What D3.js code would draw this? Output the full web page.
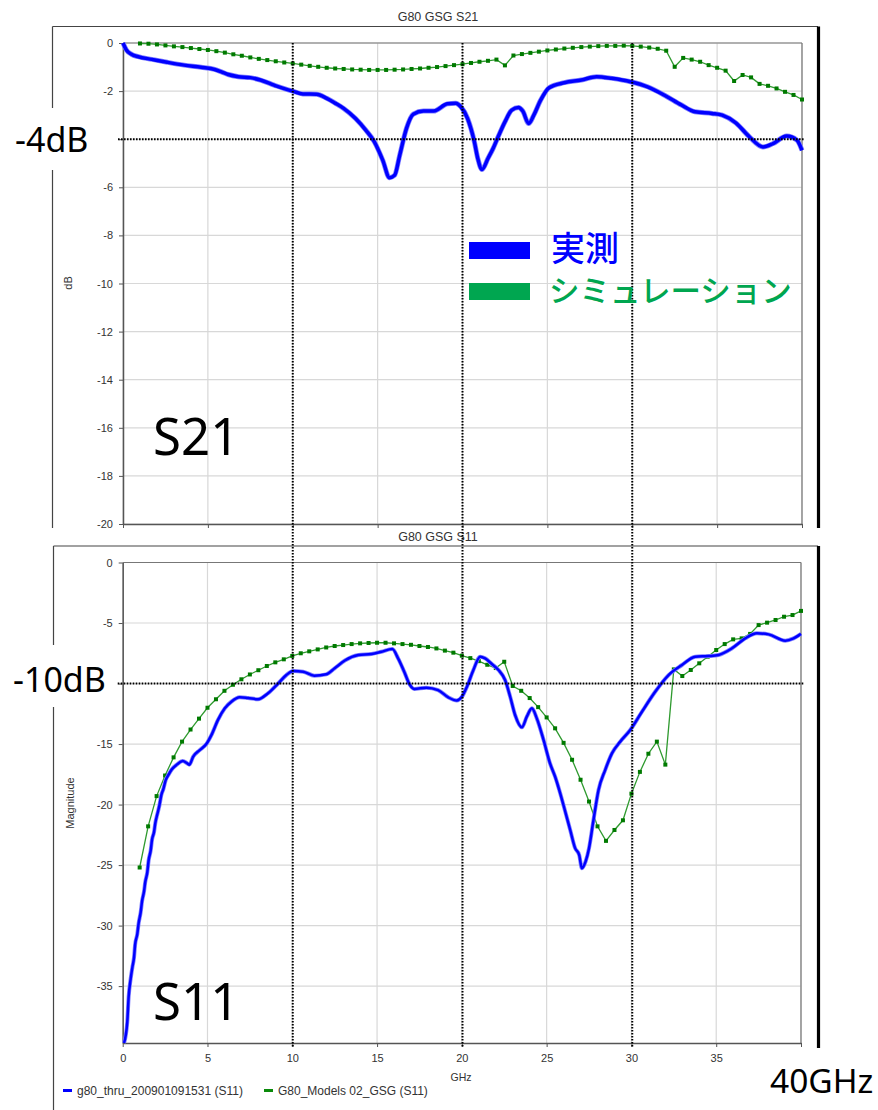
<!DOCTYPE html>
<html>
<head>
<meta charset="utf-8">
<script src="https://cdn.jsdelivr.net/npm/d3@7"></script>
<style>
  body { margin: 0; background: #fff; }
  svg { display: block; }
</style>
</head>
<body>
<svg id="canvas"></svg>
<script>
// measured S21 (blue)
const s21MeasFreq = [0, 0.2, 0.5, 0.9, 1.7, 2.6, 3.6, 4.6, 5.4, 5.8, 6.2, 6.8, 7.5, 8.1, 8.9, 9.5, 10, 10.6, 11.4, 12, 12.5, 13, 13.7, 14.3, 14.8, 15.3, 15.7, 16, 16.3, 16.7, 17.1, 17.7, 18.3, 19.1, 19.6, 19.9, 20.3, 20.7, 20.9, 21.15, 21.5, 21.8, 22.1, 22.5, 22.9, 23.3, 23.55, 23.9, 24.2, 24.6, 25.1, 26, 27, 27.9, 28.8, 29.9, 30.9, 31.9, 32.9, 33.7, 34.7, 35.3, 36.1, 36.9, 37.7, 38.3, 39.1, 39.7, 40];
const s21MeasDb = [0, -0.29, -0.47, -0.57, -0.68, -0.8, -0.92, -1.01, -1.1, -1.2, -1.31, -1.4, -1.44, -1.54, -1.75, -1.9, -2.0, -2.12, -2.13, -2.3, -2.5, -2.72, -3.14, -3.62, -4.1, -4.87, -5.6, -5.5, -4.67, -3.55, -2.96, -2.83, -2.83, -2.53, -2.5, -2.65, -3.14, -4.11, -4.8, -5.26, -4.8, -4.39, -3.9, -3.28, -2.79, -2.68, -2.83, -3.35, -3.0, -2.38, -1.86, -1.65, -1.54, -1.4, -1.47, -1.61, -1.82, -2.17, -2.58, -2.86, -2.93, -3.0, -3.32, -3.9, -4.32, -4.18, -3.87, -4.04, -4.46];

// measured S11 (blue)
const s11MeasFreq = [0.08, 0.27, 0.35, 0.47, 0.57, 0.67, 0.73, 0.86, 0.94, 1.06, 1.14, 1.26, 1.33, 1.45, 1.53, 1.65, 1.73, 1.85, 1.92, 2.04, 2.16, 2.28, 2.4, 2.53, 2.69, 2.89, 3.19, 3.54, 3.81, 3.93, 4.15, 4.54, 4.93, 5.23, 5.62, 6.02, 6.41, 6.9, 7.39, 7.98, 8.57, 9.16, 9.65, 10.05, 10.64, 11.3, 12.0, 12.5, 13.1, 13.9, 14.67, 15.26, 15.9, 16.24, 16.6, 16.93, 17.2, 17.9, 18.6, 19.2, 19.7, 20.0, 20.3, 20.68, 21.08, 21.37, 21.77, 22.16, 22.55, 22.85, 23.14, 23.54, 23.83, 24.13, 24.42, 24.82, 25.2, 25.5, 25.8, 26.1, 26.39, 26.68, 26.92, 27.08, 27.3, 27.5, 27.76, 28.06, 28.45, 28.85, 29.34, 29.93, 30.62, 31.4, 32.19, 32.98, 33.76, 34.55, 35.14, 35.93, 36.71, 37.4, 38.09, 39.07, 39.56, 40];
const s11MeasDb = [-39.7, -37.95, -35.9, -34.4, -33.45, -32.6, -31.6, -30.7, -29.8, -28.9, -28.0, -27.15, -26.4, -25.6, -24.6, -23.8, -22.9, -22.25, -21.55, -20.8, -20.1, -19.2, -18.7, -18.0, -17.56, -17.1, -16.7, -16.4, -16.6, -16.7, -16.05, -15.5, -15.0, -14.26, -13.0, -12.05, -11.5, -11.14, -11.2, -11.3, -10.8, -10.0, -9.3, -8.97, -9.02, -9.35, -9.24, -8.74, -8.1, -7.65, -7.56, -7.37, -7.15, -7.92, -9.02, -10.1, -10.45, -10.34, -10.54, -11.14, -11.4, -11.1, -10.26, -8.88, -7.78, -7.92, -8.39, -8.88, -9.71, -11.09, -12.6, -13.62, -12.74, -12.05, -12.88, -14.67, -16.6, -17.7, -19.07, -20.6, -22.1, -23.6, -24.17, -25.27, -24.7, -23.6, -21.3, -18.8, -17.15, -15.77, -14.8, -13.84, -12.33, -10.68, -9.3, -8.47, -7.78, -7.73, -7.64, -7.09, -6.27, -5.85, -5.94, -6.46, -6.27, -5.9];

// simulation (green), 1..40 GHz in 0.5 GHz steps
const simFreq = [1, 1.5, 2, 2.5, 3, 3.5, 4, 4.5, 5, 5.5, 6, 6.5, 7, 7.5, 8, 8.5, 9, 9.5, 10, 10.5, 11, 11.5, 12, 12.5, 13, 13.5, 14, 14.5, 15, 15.5, 16, 16.5, 17, 17.5, 18, 18.5, 19, 19.5, 20, 20.5, 21, 21.5, 22, 22.5, 23, 23.5, 24, 24.5, 25, 25.5, 26, 26.5, 27, 27.5, 28, 28.5, 29, 29.5, 30, 30.5, 31, 31.5, 32, 32.5, 33, 33.5, 34, 34.5, 35, 35.5, 36, 36.5, 37, 37.5, 38, 38.5, 39, 39.5, 40];
const s21SimDb = [-0.02, -0.03, -0.06, -0.1, -0.14, -0.17, -0.21, -0.25, -0.29, -0.34, -0.4, -0.47, -0.53, -0.6, -0.66, -0.71, -0.76, -0.81, -0.85, -0.9, -0.95, -0.99, -1.03, -1.06, -1.08, -1.1, -1.11, -1.12, -1.12, -1.12, -1.11, -1.1, -1.08, -1.06, -1.03, -1.0, -0.96, -0.92, -0.88, -0.83, -0.78, -0.74, -0.69, -0.93, -0.52, -0.46, -0.41, -0.36, -0.31, -0.27, -0.23, -0.2, -0.17, -0.15, -0.13, -0.12, -0.12, -0.11, -0.12, -0.15, -0.19, -0.24, -0.32, -0.99, -0.62, -0.69, -0.78, -0.92, -1.03, -1.15, -1.58, -1.33, -1.43, -1.7, -1.78, -1.89, -2.03, -2.16, -2.35];
const s11SimDb = [-25.2, -21.8, -19.3, -17.6, -16.1, -14.8, -13.8, -12.9, -12.0, -11.3, -10.6, -10.1, -9.65, -9.25, -8.9, -8.55, -8.25, -8.0, -7.72, -7.5, -7.34, -7.18, -7.02, -6.9, -6.82, -6.74, -6.68, -6.65, -6.63, -6.63, -6.68, -6.74, -6.8, -6.9, -6.98, -7.1, -7.28, -7.45, -7.7, -7.9, -8.15, -8.45, -8.72, -8.2, -10.2, -10.6, -11.2, -11.95, -12.8, -13.7, -14.9, -16.3, -17.95, -19.75, -21.8, -23.0, -22.1, -21.3, -19.1, -17.3, -15.8, -14.8, -16.7, -8.83, -9.38, -8.88, -8.33, -7.78, -7.23, -6.74, -6.35, -6.27, -5.9, -5.17, -4.97, -4.75, -4.48, -4.34, -4.0];

const freqTicks = [0, 5, 10, 15, 20, 25, 30, 35, 40];
const freqLabels = ['0', '5', '10', '15', '20', '25', '30', '35', ''];
const s21Ticks = [0, -2, -4, -6, -8, -10, -12, -14, -16, -18, -20];
const s11Ticks = [0, -5, -10, -15, -20, -25, -30, -35];
const markerFreqs = [10, 20, 30];
const legendNames = ['g80_thru_200901091531 (S11)', 'G80_Models 02_GSG (S11)'];

const width = 878;
const height = 1110;
const blue = '#0000ff';
const tickFont = '"Liberation Sans", Arial, sans-serif';
const bigFont = '"Noto Sans", "Open Sans", sans-serif';
const cjkFont = '"Noto Sans CJK JP", "Noto Sans", sans-serif';

const svg = d3.select('#canvas').attr('width', width).attr('height', height);

const zip = (xs, ys) => xs.map((f, i) => ({ f: f, v: ys[i] }));

const drawPanel = (cfg) => {
	const x = d3.scaleLinear().domain([0, 40]).range([cfg.left, cfg.right]);
	const y = d3.scaleLinear().domain([cfg.yMin, 0]).range([cfg.bottom, cfg.top]);
	const g = svg.append('g');

	// outer frame
	g.append('line').attr('x1', cfg.frameX).attr('x2', 818).attr('y1', cfg.frameTop).attr('y2', cfg.frameTop)
		.attr('stroke', '#444').attr('stroke-width', 1.2);
	g.append('line').attr('x1', cfg.frameX).attr('x2', cfg.frameX).attr('y1', cfg.frameTop).attr('y2', cfg.frameBottom)
		.attr('stroke', '#444').attr('stroke-width', 1.2);
	g.append('line').attr('x1', 818.5).attr('x2', 818.5).attr('y1', cfg.frameTop).attr('y2', cfg.rightBottom)
		.attr('stroke', '#000').attr('stroke-width', 3.2);

	g.append('text').attr('x', 438).attr('y', cfg.titleY).attr('text-anchor', 'middle')
		.attr('font-family', tickFont).attr('font-size', 12.5).attr('fill', '#333').text(cfg.title);

	// grid
	g.append('g').selectAll('line').data(cfg.yTicks).enter().append('line')
		.attr('x1', cfg.left).attr('x2', cfg.right).attr('y1', (d) => y(d)).attr('y2', (d) => y(d))
		.attr('stroke', '#d8d8d8').attr('stroke-width', 1.2);
	g.append('g').selectAll('line').data(freqTicks).enter().append('line')
		.attr('x1', (d) => x(d)).attr('x2', (d) => x(d)).attr('y1', cfg.top).attr('y2', cfg.bottom)
		.attr('stroke', '#d8d8d8').attr('stroke-width', 1.2);

	// plot box top / right
	g.append('line').attr('x1', cfg.left).attr('x2', cfg.right).attr('y1', cfg.top).attr('y2', cfg.top)
		.attr('stroke', '#777').attr('stroke-width', 1.2);
	g.append('line').attr('x1', cfg.right).attr('x2', cfg.right).attr('y1', cfg.top).attr('y2', cfg.bottom)
		.attr('stroke', '#777').attr('stroke-width', 1.2);

	// axes (the label under the dB annotation is hidden in the original)
	const yAxis = g.append('g').attr('transform', `translate(${cfg.left},0)`)
		.call(d3.axisLeft(y).tickValues(cfg.yTicks).tickSize(4).tickSizeOuter(0).tickPadding(6)
			.tickFormat((d) => (d === cfg.refLevel ? '' : d)));
	const xAxis = g.append('g').attr('transform', `translate(0,${cfg.bottom})`)
		.call(d3.axisBottom(x).tickValues(freqTicks).tickSize(4).tickSizeOuter(0).tickPadding(7)
			.tickFormat((d, i) => (cfg.xLabels ? freqLabels[i] : '')));
	[yAxis, xAxis].forEach((a) => {
		a.select('.domain').attr('stroke', '#555').attr('stroke-width', 1.5);
		a.selectAll('.tick line').attr('stroke', '#555');
		a.selectAll('text').attr('font-family', tickFont).attr('font-size', 11).attr('fill', '#333');
	});

	g.append('text')
		.attr('transform', `translate(${cfg.yLabelX},${cfg.yLabelY}) rotate(-90)`)
		.attr('text-anchor', 'middle').attr('font-family', tickFont).attr('font-size', 11)
		.attr('fill', '#333').text(cfg.yLabel);

	// simulation (green, linear with markers)
	const sim = zip(simFreq, cfg.simDb);
	g.append('path').datum(sim)
		.attr('d', d3.line().x((d) => x(d.f)).y((d) => y(d.v)))
		.attr('fill', 'none').attr('stroke', '#2f9a2f').attr('stroke-width', 1.3);
	g.append('g').selectAll('rect').data(sim).enter().append('rect')
		.attr('x', (d) => x(d.f) - 2).attr('y', (d) => y(d.v) - 2).attr('width', 4).attr('height', 4)
		.attr('fill', '#007a00');

	// measured (blue, dense)
	const meas = zip(cfg.measFreq, cfg.measDb);
	const measLine = d3.line().curve(d3.curveMonotoneX).x((d) => x(d.f)).y((d) => y(d.v));
	g.append('path').datum(meas).attr('d', measLine)
		.attr('fill', 'none').attr('stroke', '#8080ff').attr('stroke-width', cfg.measWidth + 1.5);
	g.append('path').datum(meas).attr('d', measLine)
		.attr('fill', 'none').attr('stroke', blue).attr('stroke-width', cfg.measWidth);

	// dotted reference level
	g.append('line').attr('x1', cfg.left - 5).attr('x2', cfg.right + 3)
		.attr('y1', y(cfg.refLevel)).attr('y2', y(cfg.refLevel))
		.attr('stroke', '#000').attr('stroke-width', 2).attr('stroke-dasharray', '1.6 1.4');

	return { x: x, y: y };
};

const top21 = drawPanel({
	title: 'G80 GSG S21', titleY: 21,
	frameX: 52.5, frameTop: 26.5, frameBottom: 528, rightBottom: 528,
	left: 123, right: 802, top: 43, bottom: 524, yMin: -20,
	yTicks: s21Ticks, xLabels: false, refLevel: -4,
	yLabel: 'dB', yLabelX: 72, yLabelY: 283,
	measFreq: s21MeasFreq, measDb: s21MeasDb, simDb: s21SimDb, measWidth: 3.5
});

const bot11 = drawPanel({
	title: 'G80 GSG S11', titleY: 541,
	frameX: 53.5, frameTop: 546, frameBottom: 1110, rightBottom: 1048,
	left: 122.7, right: 801, top: 562.5, bottom: 1043, yMin: -39.7,
	yTicks: s11Ticks, xLabels: true, refLevel: -10,
	yLabel: 'Magnitude', yLabelX: 74, yLabelY: 803,
	measFreq: s11MeasFreq, measDb: s11MeasDb, simDb: s11SimDb, measWidth: 2.5
});

// dotted frequency markers spanning both panels
svg.append('g').selectAll('line').data(markerFreqs).enter().append('line')
	.attr('x1', (d) => top21.x(d)).attr('x2', (d) => top21.x(d))
	.attr('y1', 43).attr('y2', 1047)
	.attr('stroke', '#000').attr('stroke-width', 2).attr('stroke-dasharray', '1.6 1.4');

svg.append('text').attr('x', 461).attr('y', 1081).attr('text-anchor', 'middle')
	.attr('font-family', tickFont).attr('font-size', 10.5).attr('fill', '#333').text('GHz');

// bottom legend
const legend = svg.append('g');
[[63, blue, legendNames[0]], [264, '#0a8a0a', legendNames[1]]].forEach((item) => {
	legend.append('rect').attr('x', item[0]).attr('y', 1089).attr('width', 9).attr('height', 3).attr('fill', item[1]);
	legend.append('text').attr('x', item[0] + 14).attr('y', 1095).attr('font-family', tickFont)
		.attr('font-size', 12).attr('fill', '#333').text(item[2]);
});

// annotations
const note = (txt, x, y, size, box) => {
	if (box) {
		svg.append('rect').attr('x', box[0]).attr('y', box[1]).attr('width', box[2]).attr('height', box[3]).attr('fill', '#fff');
	}
	svg.append('text').attr('x', x).attr('y', y).attr('font-family', bigFont)
		.attr('font-size', size).attr('fill', '#000').text(txt);
};
note('-4dB', 15, 152, 34, [0, 108, 117, 62]);
note('-10dB', 13, 692, 34, [0, 645, 117, 62]);
note('S21', 153, 455, 51, null);
note('S11', 153, 1020, 51, null);
note('40GHz', 770, 1093, 33.5, [762, 1053, 116, 57]);

// colour legend in the S21 panel
svg.append('rect').attr('x', 469).attr('y', 242).attr('width', 61).attr('height', 17).attr('fill', blue);
svg.append('rect').attr('x', 469).attr('y', 283).attr('width', 61).attr('height', 17).attr('fill', '#00a650');
svg.append('text').attr('x', 551).attr('y', 261).attr('font-family', cjkFont).attr('font-size', 34)
	.attr('font-weight', 500).attr('fill', blue).text('実測');
svg.append('text').attr('x', 549).attr('y', 302).attr('font-family', cjkFont).attr('font-size', 30.5)
	.attr('font-weight', 500).attr('fill', '#00a650').text('シミュレーション');
</script>
</body>
</html>
